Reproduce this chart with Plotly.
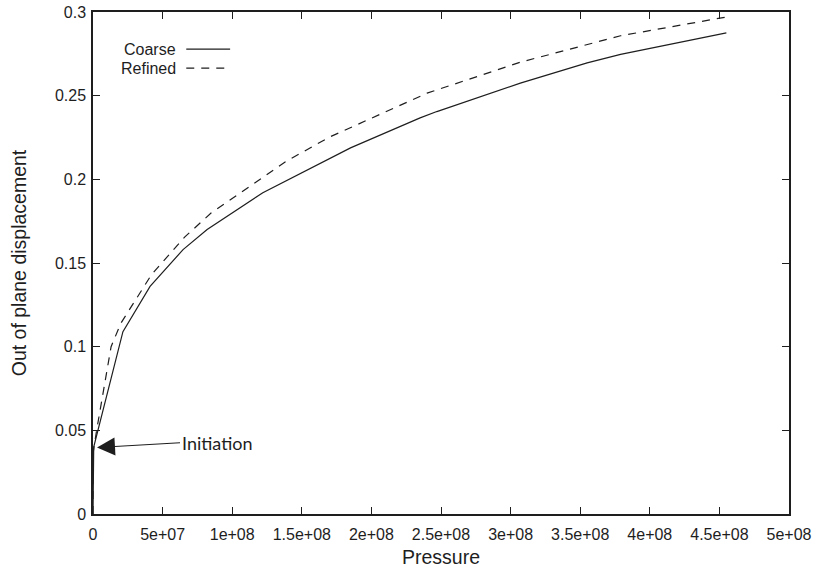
import plotly.graph_objects as go

# Out-of-plane displacement vs. applied pressure for two mesh densities
coarse_pressure = [0, 5e5, 2.15e7, 4.1e7, 6.47e7, 8.2e7, 1.22e8, 1.70e8, 1.85e8,
                   2.35e8, 2.47e8, 3.07e8, 3.35e8, 3.55e8, 3.79e8, 4.55e8]
coarse_disp = [0, 0.040, 0.109, 0.136, 0.158, 0.170, 0.192, 0.2125, 0.2188,
               0.2367, 0.2405, 0.2575, 0.2648, 0.2696, 0.2747, 0.2875]

refined_pressure = [0, 0, 2.6e6, 8.6e6, 1.3e7, 2.0e7, 4.2e7, 6.6e7, 8.5e7, 1.07e8,
                    1.38e8, 1.70e8, 2.30e8, 2.40e8, 3.07e8, 3.35e8, 3.79e8, 4.55e8]
refined_disp = [0, 0.036, 0.050, 0.080, 0.100, 0.114, 0.143, 0.1656, 0.180, 0.1925,
                0.2104, 0.2253, 0.2480, 0.2515, 0.2700, 0.2762, 0.2858, 0.297]

x_tick_vals = [0, 5e7, 1e8, 1.5e8, 2e8, 2.5e8, 3e8, 3.5e8, 4e8, 4.5e8, 5e8]
x_tick_text = ["0", "5e+07", "1e+08", "1.5e+08", "2e+08", "2.5e+08", "3e+08",
               "3.5e+08", "4e+08", "4.5e+08", "5e+08"]
y_tick_vals = [0, 0.05, 0.1, 0.15, 0.2, 0.25, 0.3]
y_tick_text = ["0", "0.05", "0.1", "0.15", "0.2", "0.25", "0.3"]

initiation_point = (0, 0.0396)

INK = "#1e1e1e"
FONT = "Liberation Sans, Arial, sans-serif"

fig = go.Figure()
fig.add_trace(go.Scatter(x=coarse_pressure, y=coarse_disp, mode="lines", name="Coarse",
                         line=dict(color=INK, width=1.2), showlegend=False))
fig.add_trace(go.Scatter(x=refined_pressure, y=refined_disp, mode="lines", name="Refined",
                         line=dict(color=INK, width=1.2, dash="8px,7px"), showlegend=False))

axis_common = dict(showline=True, linecolor=INK, linewidth=1.5, mirror="ticks",
                   ticks="inside", ticklen=7, tickwidth=1, tickcolor=INK,
                   showgrid=False, zeroline=False, automargin=False,
                   tickfont=dict(family=FONT, size=16, color=INK))

fig.update_xaxes(range=[0, 5e8], tickvals=x_tick_vals, ticktext=x_tick_text,
                 ticklabelstandoff=5,
                 title=dict(text="Pressure", font=dict(family=FONT, size=19.5, color=INK),
                            standoff=8),
                 **axis_common)
fig.update_yaxes(range=[0, 0.3], tickvals=y_tick_vals, ticktext=y_tick_text,
                 ticklabelstandoff=2,
                 title=dict(text="Out of plane displacement",
                            font=dict(family=FONT, size=19.5, color=INK), standoff=23),
                 **axis_common)

# Key drawn gnuplot-style: label on the left, line sample on the right
key_rows = [("Coarse", None, 0.926), ("Refined", "8px,7px", 0.888)]
for label, dash, ypos in key_rows:
    fig.add_annotation(x=0.1225, y=ypos, xref="paper", yref="paper", text=label,
                       showarrow=False, xanchor="right", yanchor="middle",
                       font=dict(family=FONT, size=16, color=INK))
    fig.add_shape(type="line", xref="paper", yref="paper", x0=0.134, x1=0.197,
                  y0=ypos, y1=ypos, line=dict(color=INK, width=1.2, dash=dash))

fig.add_annotation(x=initiation_point[0], y=initiation_point[1], xref="x", yref="y",
                   text="Initiation", showarrow=True, ax=87, ay=-5,
                   axref="pixel", ayref="pixel", xanchor="left", yanchor="middle",
                   arrowhead=2, arrowsize=3, arrowwidth=1.2, arrowcolor=INK,
                   standoff=4,
                   font=dict(family="Lato, Open Sans, sans-serif", size=18, color=INK))

fig.update_layout(width=815, height=571, plot_bgcolor="white", paper_bgcolor="white",
                  margin=dict(l=93, r=26, t=12, b=57), showlegend=False)

fig.write_html("out.html")
